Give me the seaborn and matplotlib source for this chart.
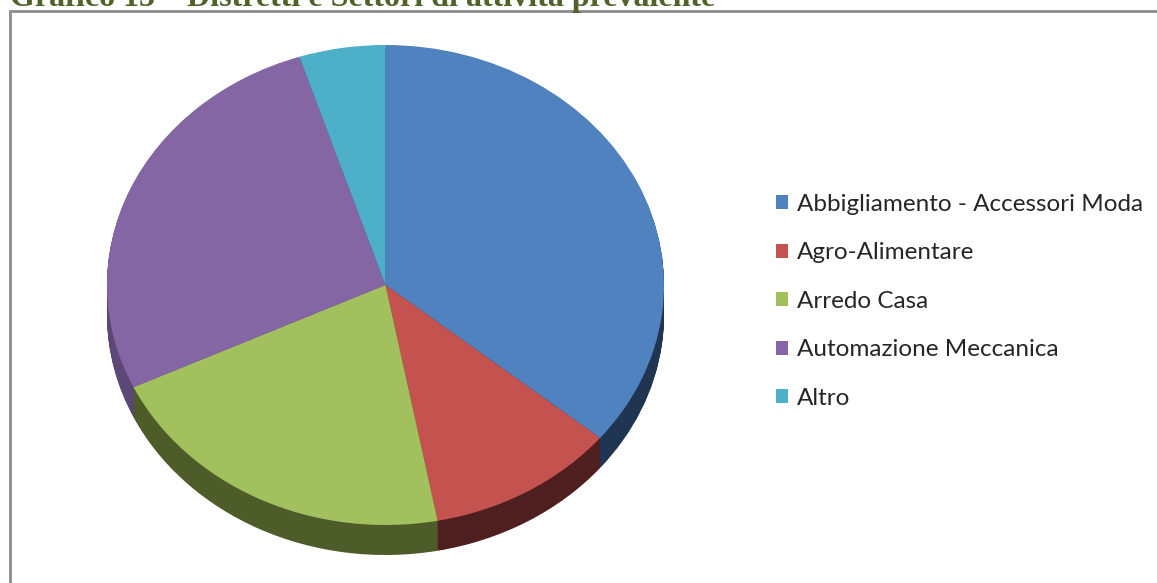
import matplotlib
matplotlib.use("Agg")
import matplotlib.pyplot as plt
from matplotlib.patches import Rectangle
import seaborn as sns

# Sector shares (%)
categories = ["Abbigliamento - Accessori Moda", "Agro-Alimentare", "Arredo Casa",
              "Automazione Meccanica", "Altro"]
shares = [36, 11, 21, 27, 5]
title = "Grafico 15 – Distretti e Settori di attività prevalente"

sns.set_theme(style="white")
plt.rcParams["font.family"] = ["Lato", "DejaVu Sans"]

top_colors = sns.color_palette(["#5082C0", "#C4524F", "#A2C05E", "#8466A5", "#4EAFC8"])
side_colors = sns.color_palette(["#1F3552", "#4F1F1F", "#4E5C2A", "#5C4876", "#2A6070"])

W, H = 1157, 583
fig = plt.figure(figsize=(W / 100, H / 100), dpi=100)
fig.patch.set_facecolor("white")

# pie geometry in pixels: ellipse radii and depth of the rim
rx, ry, depth = 278.5, 240.0, 30.0
cx, top = 385.5, 45.0
d = depth / ry
ax = fig.add_axes([(cx - rx) / W, (H - top - 2 * ry - depth) / H,
                   2 * rx / W, (2 * ry + depth) / H])

# rim: stacked copies of the pie shifted downward, drawn bottom-up
n_layers = 40
for i in range(n_layers, 0, -1):
    off = d * i / n_layers
    ax.pie(shares, colors=side_colors, startangle=90, counterclock=False,
           center=(0, -off), radius=1,
           wedgeprops=dict(linewidth=0, antialiased=True))

# top face
wedges, _ = ax.pie(shares, colors=top_colors, startangle=90, counterclock=False,
                   center=(0, 0), radius=1,
                   wedgeprops=dict(linewidth=0, antialiased=True))

ax.set_aspect("auto")
ax.set_xlim(-1, 1)
ax.set_ylim(-1 - d, 1)
ax.axis("off")

fig.legend(wedges, categories, loc="upper left",
           bbox_to_anchor=(776 / W, 1 - 194 / H), frameon=False,
           fontsize=17.5, handlelength=0.5, handleheight=0.5, handletextpad=0.37,
           labelspacing=1.13, borderaxespad=0, borderpad=0)

# chart frame
fig.add_artist(Rectangle((9.5 / W, -0.05), 1.1, (H - 10.5) / H + 0.05,
                         transform=fig.transFigure, fill=False,
                         edgecolor="#8C8C8C", linewidth=2))

# caption above the frame
fig.text(10 / W, 1 - 6 / H, title, family="Liberation Serif", fontweight="bold",
         fontsize=23, color="#4F6228", ha="left", va="baseline")

fig.savefig("out.png", dpi=100)
